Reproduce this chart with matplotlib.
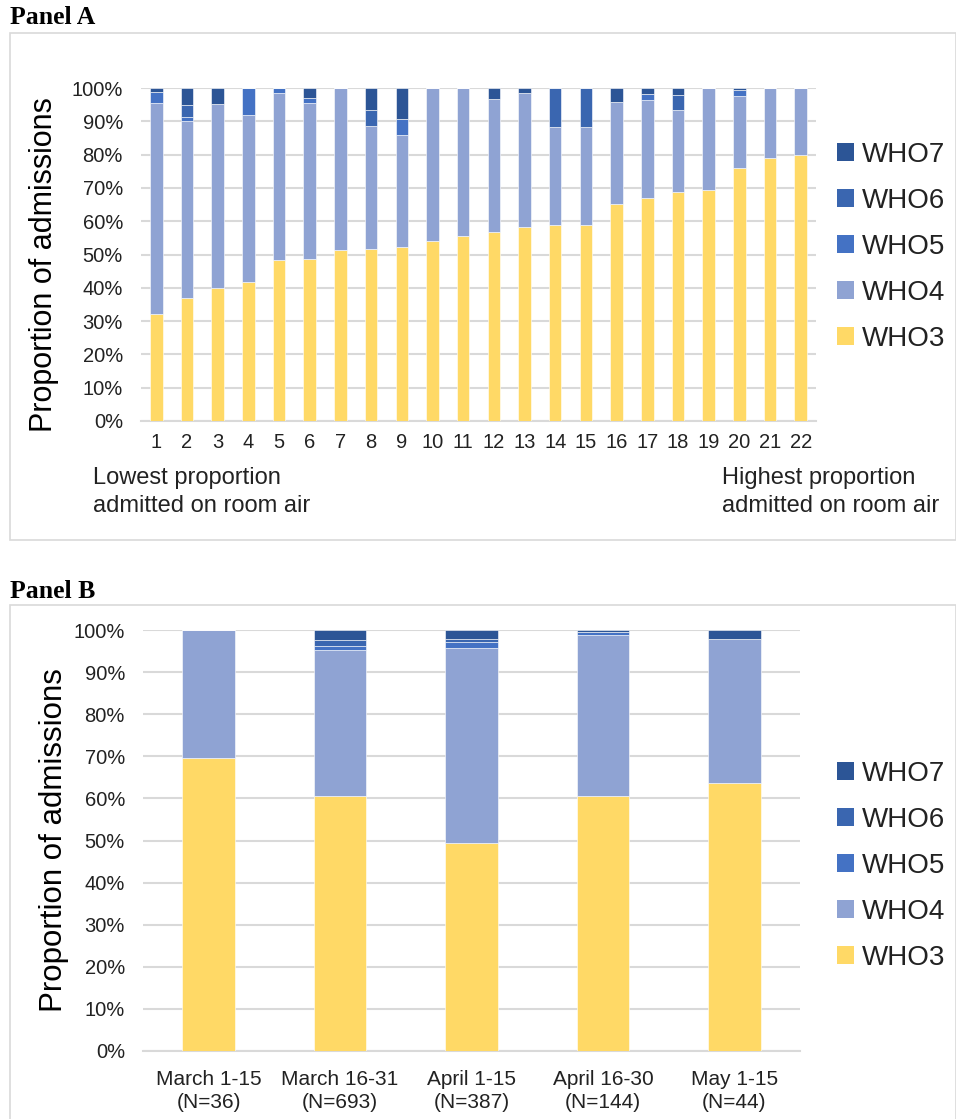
import numpy as np
import matplotlib
matplotlib.use('Agg')
import matplotlib.pyplot as plt
from matplotlib.patches import Rectangle, Patch
from matplotlib.ticker import MultipleLocator, PercentFormatter

plt.rcParams['font.family'] = ['Liberation Sans', 'DejaVu Sans']

# 颜色 (WHO3 .. WHO7)
colors = ['#FFD966', '#8FA3D3', '#4472C4', '#3A66B0', '#2C5596']
labels = ['WHO3', 'WHO4', 'WHO5', 'WHO6', 'WHO7']

# Panel A: 22 sites
sites = [str(i) for i in range(1, 23)]
who3_a = [32.2, 36.9, 39.9, 41.6, 48.3, 48.5, 51.4, 51.8, 52.4, 54.2, 55.6,
          56.9, 58.2, 58.8, 58.8, 65.2, 67.0, 68.9, 69.3, 76.0, 78.9, 80.0]
who4_a = [63.2, 53.3, 55.2, 50.2, 50.1, 47.1, 48.6, 36.7, 33.4, 45.8, 44.4,
          39.7, 40.4, 29.5, 29.5, 30.6, 29.3, 24.5, 30.7, 21.5, 21.1, 20.0]
who5_a = [3.3, 1.2, 0, 8.2, 1.6, 1.5, 0, 0, 4.8, 0, 0,
          0, 0, 0, 0, 0, 1.8, 0, 0, 1.9, 0, 0]
who6_a = [0, 3.6, 0, 0, 0, 0, 0, 4.8, 0, 0, 0,
          0, 0, 11.7, 11.7, 0, 0, 4.4, 0, 0, 0, 0]
who7_a = [1.3, 5.0, 4.9, 0, 0, 2.9, 0, 6.7, 9.4, 0, 0,
          3.4, 1.4, 0, 0, 4.2, 1.9, 2.2, 0, 0.6, 0, 0]

# Panel B: 时间段
periods = ['March 1-15\n(N=36)', 'March 16-31\n(N=693)', 'April 1-15\n(N=387)',
           'April 16-30\n(N=144)', 'May 1-15\n(N=44)']
who3_b = [69.5, 60.5, 49.4, 60.5, 63.6]
who4_b = [30.5, 34.7, 46.3, 38.2, 34.2]
who5_b = [0, 0.95, 1.5, 0.8, 0]
who6_b = [0, 1.45, 0.6, 0, 0]
who7_b = [0, 2.4, 2.2, 0.5, 2.2]

W, H = 956, 1119
fig = plt.figure(figsize=(W / 100, H / 100), dpi=100)


def px_axes(x0, y0, x1, y1):
    return fig.add_axes([x0 / W, 1 - y1 / H, (x1 - x0) / W, (y1 - y0) / H])


def stacked(ax, x, series, width):
    bottom = np.zeros(len(x))
    for vals, c in zip(series, colors):
        vals = np.array(vals, dtype=float)
        ax.bar(x, vals, width, bottom=bottom, color=c, edgecolor='white',
               linewidth=0.4, zorder=3)
        bottom += vals


def style(ax):
    ax.set_ylim(0, 100)
    ax.yaxis.set_major_locator(MultipleLocator(10))
    ax.yaxis.set_major_formatter(PercentFormatter(decimals=0))
    ax.yaxis.grid(True, color='#D9D9D9', linewidth=1.5, zorder=0)
    for s in ['top', 'right', 'left']:
        ax.spines[s].set_visible(False)
    ax.spines['bottom'].set_color('#D9D9D9')
    ax.spines['bottom'].set_linewidth(1.5)
    ax.tick_params(axis='both', length=0, labelsize=14.5, colors='#222222')
    ax.tick_params(axis='y', pad=13)
    ax.set_axisbelow(True)


def legend(yc):
    handles = [Patch(facecolor=c, edgecolor='none') for c in colors][::-1]
    fig.legend(handles, labels[::-1], loc='center left',
               bbox_to_anchor=(812 / W, 1 - yc / H), frameon=False,
               fontsize=20, handlelength=0.6, handleheight=0.6,
               handletextpad=0.3, labelspacing=0.72, labelcolor='#222222')


# 边框和标题
for (y0, y1) in [(33, 540), (605, 1125)]:
    fig.patches.append(Rectangle((10 / W, 1 - y1 / H), 946 / W, (y1 - y0) / H,
                                 transform=fig.transFigure, fill=False,
                                 edgecolor='#D9D9D9', linewidth=1.2))
fig.text(10 / W, 1 - 18 / H, 'Panel A', family='Liberation Serif',
         weight='bold', fontsize=18.5, va='center', ha='left')
fig.text(10 / W, 1 - 591 / H, 'Panel B', family='Liberation Serif',
         weight='bold', fontsize=18.5, va='center', ha='left')

# Panel A
axA = px_axes(141, 88, 816, 421)
xa = np.arange(1, 23)
stacked(axA, xa, [who3_a, who4_a, who5_a, who6_a, who7_a], 0.41)
style(axA)
axA.set_xlim(0.5, 22.5)
axA.set_xticks(xa)
axA.set_xticklabels(sites)
axA.tick_params(axis='x', pad=9)
axA.set_ylabel('Proportion of admissions', fontsize=22)
axA.yaxis.set_label_coords(-0.122, 0.47)
fig.text(93 / W, 1 - 492 / H, 'Lowest proportion\nadmitted on room air',
         fontsize=17, va='center', ha='left', linespacing=1.3, color='#222222')
fig.text(722 / W, 1 - 492 / H, 'Highest proportion\nadmitted on room air',
         fontsize=17, va='center', ha='left', linespacing=1.3, color='#222222')
legend(247)

# Panel B
axB = px_axes(143, 630, 800, 1051)
xb = np.arange(len(periods))
stacked(axB, xb, [who3_b, who4_b, who5_b, who6_b, who7_b], 0.40)
style(axB)
axB.set_xlim(-0.5, 4.5)
axB.set_xticks(xb)
axB.set_xticklabels(periods, linespacing=1.25, fontsize=15)
axB.tick_params(axis='x', pad=14)
axB.set_ylabel('Proportion of admissions', fontsize=22.5)
axB.yaxis.set_label_coords(-0.113, 0.5)
legend(866)

fig.savefig('out.png', dpi=100)
